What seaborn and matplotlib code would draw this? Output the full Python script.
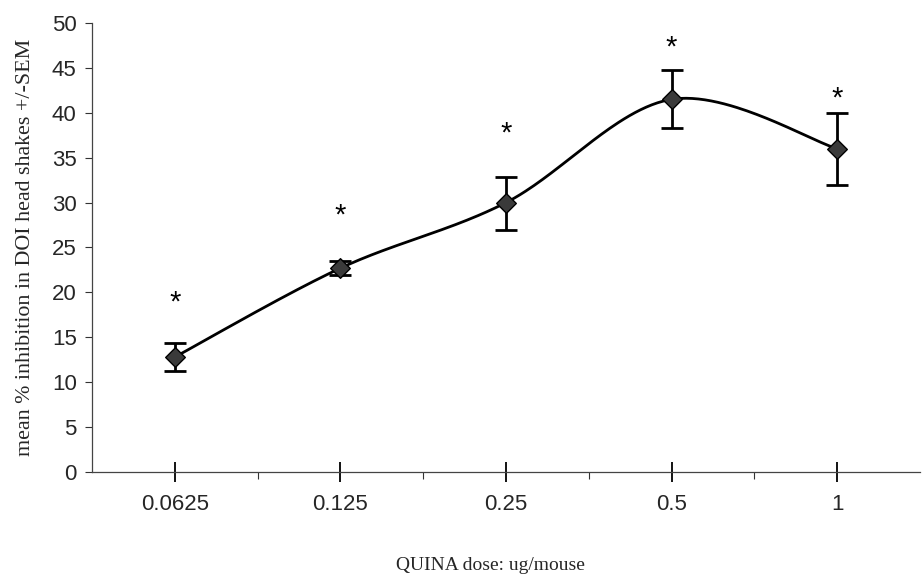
import numpy as np
import pandas as pd
import matplotlib
matplotlib.use("Agg")
import matplotlib.pyplot as plt
import seaborn as sns
from matplotlib.ticker import FixedLocator

doses = ["0.0625", "0.125", "0.25", "0.5", "1"]
means = [12.8, 22.7, 30.0, 41.5, 36.0]
err_low = [1.6, 0.8, 3.0, 3.2, 4.0]
err_high = [1.6, 0.8, 2.9, 3.3, 4.0]
star_y = [18.9, 28.6, 37.7, 47.3, 41.6]
y_ticks = [0, 5, 10, 15, 20, 25, 30, 35, 40, 45, 50]

sns.set_style("white")
plt.rcParams["font.family"] = ["Liberation Sans", "DejaVu Sans"]

fig = plt.figure(figsize=(9.22, 5.78), dpi=100)
ax = fig.add_axes([0.0998, 0.1834, 0.898, 0.7768])

xpos = np.arange(len(doses), dtype=float)
yv = np.array(means, dtype=float)

# Excel-style smoothed line (Catmull-Rom / Bezier)
P = np.column_stack([xpos, yv])
Pext = np.vstack([P[0], P, P[-1]])
curve = []
t = np.linspace(0, 1, 60)
for i in range(len(P) - 1):
    p0, p1, p2, p3 = Pext[i], Pext[i + 1], Pext[i + 2], Pext[i + 3]
    c1 = p1 + (p2 - p0) / 6.0
    c2 = p2 - (p3 - p1) / 6.0
    seg = ((1 - t) ** 3)[:, None] * p1 + (3 * (1 - t) ** 2 * t)[:, None] * c1 \
        + (3 * (1 - t) * t ** 2)[:, None] * c2 + (t ** 3)[:, None] * p2
    curve.append(seg if i == 0 else seg[1:])
curve = np.vstack(curve)
curve_df = pd.DataFrame({"x": curve[:, 0], "y": curve[:, 1]})
sns.lineplot(data=curve_df, x="x", y="y", ax=ax, color="black", lw=2.0,
             sort=False, estimator=None)

ax.errorbar(xpos, yv, yerr=[err_low, err_high], fmt="none", ecolor="black",
            elinewidth=2.0, capsize=8, capthick=2.0, zorder=3)

pts = pd.DataFrame({"x": xpos, "y": yv})
sns.scatterplot(data=pts, x="x", y="y", ax=ax, marker="D", s=100,
                color="#3a3a3a", edgecolor="black", linewidth=1.0, zorder=4)

for xi, sy in zip(xpos, star_y):
    ax.text(xi, sy, "*", ha="center", va="center", fontsize=21,
            fontfamily="Liberation Sans", color="black")

ax.set_xlim(-0.5, len(doses) - 0.5)
ax.set_ylim(0, 50)
ax.set_yticks(y_ticks)
ax.set_yticklabels([str(v) for v in y_ticks])
ax.set_xticks(xpos)
ax.set_xticklabels(doses)
ax.xaxis.set_minor_locator(FixedLocator(xpos[:-1] + 0.5))

ax.tick_params(axis="y", which="major", direction="out", length=5, width=0.8,
               left=True, labelsize=16, pad=6, color="#333333")
ax.tick_params(axis="x", which="major", direction="inout", length=14, width=1.3,
               bottom=True, labelsize=16, pad=9, color="black")
ax.tick_params(axis="x", which="minor", direction="out", length=5, width=0.8,
               bottom=True, color="#333333")

for s in ["top", "right"]:
    ax.spines[s].set_visible(False)
for s in ["left", "bottom"]:
    ax.spines[s].set_color("#444444")
    ax.spines[s].set_linewidth(0.9)

ax.set_xlabel("")
ax.set_ylabel("mean % inhibition in DOI head shakes +/-SEM",
              fontfamily="Liberation Serif", fontsize=15.8, labelpad=12)
fig.text(490 / 922, 1 - 565 / 578, "QUINA dose: ug/mouse", ha="center",
         va="center", fontfamily="Liberation Serif", fontsize=14)

fig.savefig("out.png", dpi=100, facecolor="white")
